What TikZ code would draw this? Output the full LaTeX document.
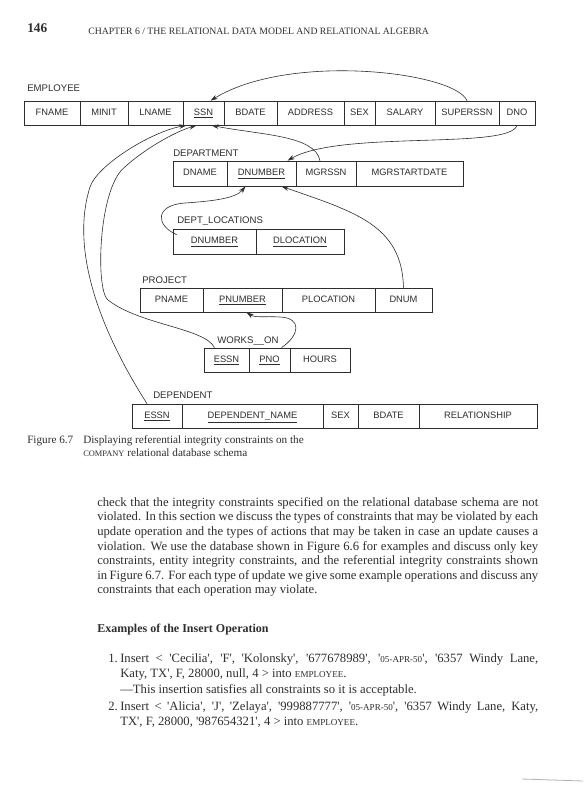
\documentclass[tikz,border=0pt]{standalone}
\usepackage{fontspec}
\usepackage{graphicx}
\setmainfont{Liberation Serif}[Ligatures=TeXOff]
\newfontfamily\dsans{Liberation Sans}
\usetikzlibrary{arrows.meta,calc}
\definecolor{ink}{gray}{0.18}
\newcommand\smc[1]{{\fontsize{6.8}{8}\selectfont #1}}
\tikzset{
  cell/.style={draw=ink, line width=0.5pt, inner sep=0pt, text height=5.1pt, text depth=1.6pt,
    font=\dsans\fontsize{7}{8}\selectfont, text=ink},
  tlabel/.style={anchor=base west, inner sep=0pt, font=\dsans\fontsize{7.2}{8}\selectfont, text=ink},
  refarrow/.style={draw=ink, line width=0.45pt, -{Stealth[length=5.5pt,width=3.4pt]}},
  body/.style={anchor=base west, inner sep=0pt, font=\fontsize{9.5}{11}\selectfont, text=ink},
  capt/.style={anchor=base west, inner sep=0pt, font=\fontsize{8.4}{10}\selectfont, text=ink},
}
% name, x1, x2, y1, y2, text  (coordinates in reference pixels)
\newcommand\cellnode[6]{%
  \pgfmathsetmacro\cellW{(#3-#2)*0.75}%
  \pgfmathsetmacro\cellH{(#5-#4)*0.75}%
  \node[cell, minimum width=\cellW pt, minimum height=\cellH pt] (#1) at ({(#2+#3)/2},{(#4+#5)/2}) {#6};}
\begin{document}
\begin{tikzpicture}[x=0.75pt,y=-0.75pt]
\fill[white] (0,0) rectangle (583,800);
\useasboundingbox (0,0) rectangle (583,800);

% header
\node[anchor=base west, inner sep=0pt, font=\bfseries\fontsize{10}{12}\selectfont, text=ink] (pnum) at (27,32) {146};
\node[anchor=base west, inner sep=0pt, font=\fontsize{7.3}{8}\selectfont, text=ink] (chap) at (88,34)
  {CHAPTER 6 / THE RELATIONAL DATA MODEL AND RELATIONAL ALGEBRA};

% EMPLOYEE
\node[tlabel] (lemp) at (27,91.5) {EMPLOYEE};
\cellnode{fname}{24}{80}{101}{125}{FNAME}
\cellnode{minit}{80}{128}{101}{125}{MINIT}
\cellnode{lname}{128}{183}{101}{125}{LNAME}
\cellnode{ssn}{183}{224}{101}{125}{\underline{SSN}}
\cellnode{bdate}{224}{277}{101}{125}{BDATE}
\cellnode{address}{277}{344}{101}{125}{ADDRESS}
\cellnode{sex}{344}{375}{101}{125}{SEX}
\cellnode{salary}{375}{435}{101}{125}{SALARY}
\cellnode{superssn}{435}{499}{101}{125}{SUPERSSN}
\cellnode{dno}{499}{535}{101}{125}{DNO}

% DEPARTMENT
\node[tlabel] (ldept) at (173,156.5) {DEPARTMENT};
\cellnode{dname}{173}{227}{161}{186}{DNAME}
\cellnode{dnumber}{227}{296}{161}{186}{\underline{DNUMBER}}
\cellnode{mgrssn}{296}{356}{161}{186}{MGRSSN}
\cellnode{mgrstart}{356}{463}{161}{186}{MGRSTARTDATE}

% DEPT_LOCATIONS
\node[tlabel] (ldloc) at (177,223.5) {DEPT\_LOCATIONS};
\cellnode{dlnum}{173}{256}{229}{254}{\underline{DNUMBER}}
\cellnode{dlloc}{256}{344}{229}{254}{\underline{DLOCATION}}

% PROJECT
\node[tlabel] (lproj) at (142,283.5) {PROJECT};
\cellnode{pname}{140}{203}{288}{312}{PNAME}
\cellnode{pnumber}{203}{282}{288}{312}{\underline{PNUMBER}}
\cellnode{plocation}{282}{375}{288}{312}{PLOCATION}
\cellnode{dnum}{375}{432}{288}{312}{DNUM}

% WORKS_ON
\node[tlabel] (lworks) at (217,343.5) {WORKS\_\_ON};
\cellnode{wessn}{204}{249}{348}{372}{\underline{ESSN}}
\cellnode{pno}{249}{290}{348}{372}{\underline{PNO}}
\cellnode{hours}{290}{350}{348}{372}{HOURS}

% DEPENDENT
\node[tlabel] (ldep) at (153,398.5) {DEPENDENT};
\cellnode{dessn}{132}{182}{404}{428}{\underline{ESSN}}
\cellnode{depname}{182}{323}{404}{428}{\underline{DEPENDENT\_NAME}}
\cellnode{dsex}{323}{358}{404}{428}{SEX}
\cellnode{dbdate}{358}{419}{404}{428}{BDATE}
\cellnode{relship}{419}{537}{404}{428}{RELATIONSHIP}

% referential integrity connectors
\draw[refarrow] (superssn.north) .. controls (455,72) and (290,52) .. ($(ssn.north)+(7,0)$);
\draw[refarrow] (dno.south) .. controls (510,150) and (340,130) .. ($(dnumber.north)+(26,0)$);
\draw[refarrow] ($(mgrssn.north)+(-6,0)$) .. controls (315,135) and (260,135) .. ($(ssn.south)+(8,0)$);
\draw[refarrow] ($(dlnum.north west)+(4,6)$) .. controls (155,225) and (155,205) .. (185,203)
   .. controls (215,201) and (236,198) .. ($(dnumber.south)+(-16,0)$);
\draw[refarrow] (dnum.north) .. controls (402,225) and (355,212) .. ($(dnumber.south)+(20,0)$);
\draw[refarrow] ($(dessn.north)+(-10,0)$) .. controls (100,330) and (70,250) .. (90,187)
   .. controls (96.6,166) and (150,132) .. ($(ssn.south)+(-17,0)$);
\draw[refarrow] ($(wessn.north)+(-12,0)$) .. controls (205,328) and (140,325) .. (108,300)
   .. controls (96,291) and (98,200) .. (120,172)
   .. controls (129,161) and (165,135) .. ($(ssn.south)+(-7,0)$);
\draw[refarrow] ($(pno.north)+(12,0)$) .. controls (300,335) and (302,318) .. (280,317)
   .. controls (265,316) and (255,318) .. ($(pnumber.south)+(4,0)$);

% caption
\node[capt] (figno) at (27,443) {Figure 6.7};
\node[capt] (cap1) at (83,443) {Displaying referential integrity constraints on the};
\node[capt] (cap2) at (83,456) {{\fontsize{6.3}{7}\selectfont COMPANY} relational database schema};

% body text
\node[body] (l1) at (97,506) {\makebox[330.75pt][s]{check that the integrity constraints specified on the relational database schema are not}};
\node[body] (l2) at (97,520) {\makebox[330.75pt][s]{violated. In this section we discuss the types of constraints that may be violated by each}};
\node[body] (l3) at (97,535) {\makebox[330.75pt][s]{update operation and the types of actions that may be taken in case an update causes a}};
\node[body] (l4) at (97,550) {\makebox[330.75pt][s]{violation. We use the database shown in Figure 6.6 for examples and discuss only key}};
\node[body] (l5) at (97,564) {\makebox[330.75pt][s]{constraints, entity integrity constraints, and the referential integrity constraints shown}};
\node[body] (l6) at (97,579) {\makebox[330.75pt][s]{in Figure 6.7. For each type of update we give some example operations and discuss any}};
\node[body] (l7) at (97,593) {constraints that each operation may violate.};

\node[body, font=\bfseries\fontsize{9}{11}\selectfont] (exhead) at (97,632) {Examples of the Insert Operation};

\node[body] (n1) at (108,662) {1.};
\node[body] (i1a) at (120,662) {\makebox[313.5pt][s]{Insert < 'Cecilia', 'F', 'Kolonsky', '677678989', '\smc{05-APR-50}', '6357 Windy Lane,}};
\node[body] (i1b) at (120,677) {Katy, TX', F, 28000, null, 4 > into \smc{EMPLOYEE}.};
\node[body] (i1c) at (120,693) {—This insertion satisfies all constraints so it is acceptable.};
\node[body] (n2) at (108,710) {2.};
\node[body] (i2a) at (120,710) {\makebox[313.5pt][s]{Insert < 'Alicia', 'J', 'Zelaya', '999887777', '\smc{05-APR-50}', '6357 Windy Lane, Katy,}};
\node[body] (i2b) at (120,725) {TX', F, 28000, '987654321', 4 > into \smc{EMPLOYEE}.};

% scan edge mark
\draw[gray!60, line width=0.6pt] (522,779) -- (583,781);
\end{tikzpicture}
\end{document}
